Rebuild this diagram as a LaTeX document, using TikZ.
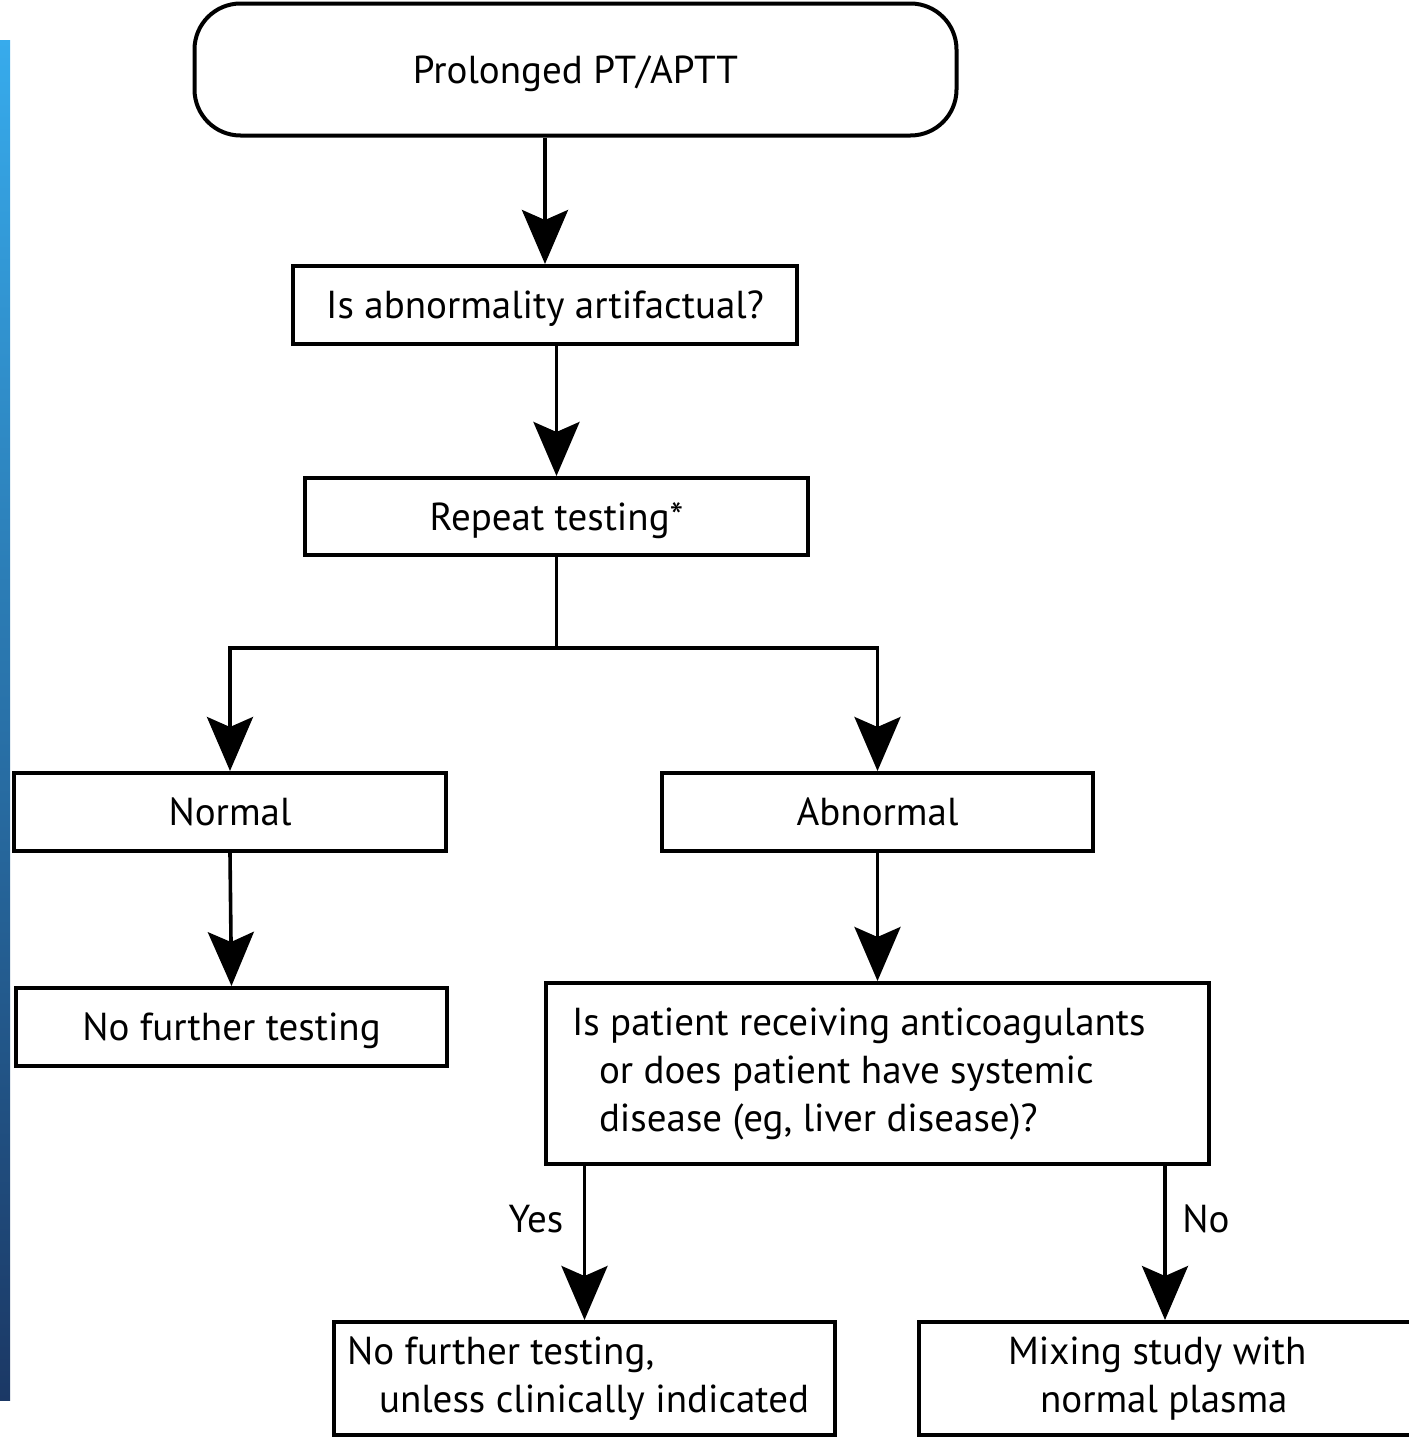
\documentclass[tikz,border=0pt]{standalone}
\usepackage{fontspec}
\setmainfont{PT Sans}
\usetikzlibrary{positioning,arrows.meta}
\definecolor{barTop}{HTML}{37ABEC}
\definecolor{barMid}{HTML}{2A78BC}
\definecolor{barBot}{HTML}{1B3865}
\newcommand{\tightsp}{\spaceskip=0pt\xspaceskip=0pt\relax}

\begin{document}
\begin{tikzpicture}[x=0.5pt, y=-0.5pt,
    font=\fontsize{19.5}{24}\selectfont,
    box/.style={draw, line width=2pt, inner sep=0pt, align=center,
                execute at begin node=\tightsp},
    onebox/.style={box, text depth=0pt},
    flow/.style={-{Stealth[length=27pt,width=23pt,inset=5pt]}, line width=1.8pt},
    link/.style={line width=1.8pt},
    lbl/.style={inner sep=0pt}]
  \useasboundingbox (0,0) rectangle (1408,1440);
  % side bar
  \shade[top color=barTop, middle color=barMid, bottom color=barBot] (0,40) rectangle (10,1400);

  % boxes
  \node[onebox, rounded corners=23pt, minimum width=381pt, minimum height=66pt] (start) at (575.5,69.5) {Prolonged PT/APTT};
  \node[onebox, minimum width=252pt, minimum height=39pt] (artif) at (545,305) {Is abnormality artifactual?};
  \node[onebox, minimum width=251.5pt, minimum height=38.5pt] (repeat) at (556.5,516.5) {Repeat testing*};
  \node[onebox, minimum width=216pt, minimum height=39pt] (normal) at (230,812) {Normal};
  \node[onebox, minimum width=215.5pt, minimum height=39pt] (abnormal) at (877.5,812) {Abnormal};
  \node[onebox, minimum width=215.5pt, minimum height=39pt] (nofurther) at (231.5,1027) {No further testing};
  \node[box, align=left, inner xsep=13pt, text width=305.5pt, minimum height=90.5pt] (anticoag) at (877.5,1073.5)
    {Is patient receiving anticoagulants\\
     \hspace*{13.5pt}or does patient have systemic\\
     \hspace*{13.5pt}disease (eg, liver disease)?};
  \node[box, align=left, inner xsep=6.5pt, text width=237.5pt, minimum height=56.5pt] (unless) at (584.5,1378.5)
    {No further testing,\\
     \hspace*{16pt}unless clinically indicated};
  \node[box, align=left, inner xsep=44.5pt, text width=157pt, minimum height=56.5pt] (mixing) at (1165,1378.5)
    {Mixing study with\\
     \hspace*{16pt}normal plasma};

  % connectors
  \draw[flow] (artif.north |- start.south) -- (artif.north);
  \draw[flow] (repeat.north |- artif.south) -- (repeat.north);
  \coordinate (split) at (556.5,648);
  \draw[link] (repeat.south) -- (split);
  \draw[flow] (split) -| (normal.north);
  \draw[flow] (split) -| (abnormal.north);
  \draw[flow] (normal.south) -- (nofurther.north);
  \draw[flow] (abnormal.south) -- (anticoag.north);
  \draw[flow] (anticoag.south -| unless.north) -- (unless.north);
  \draw[flow] (anticoag.south -| mixing.north) -- (mixing.north);

  % labels
  \node[lbl] (yes) at (536,1219) {Yes};
  \node[lbl] (no) at (1206,1219) {No};
\end{tikzpicture}
\end{document}
